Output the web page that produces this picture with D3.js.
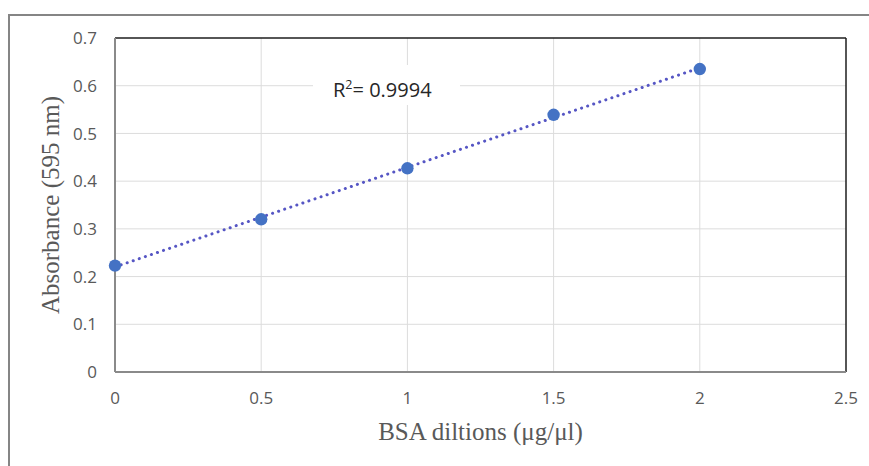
<!DOCTYPE html>
<html>
<head>
<meta charset="utf-8">
<script src="https://cdn.jsdelivr.net/npm/d3@7"></script>
<style>
  body { margin: 0; background: #fff; }
  svg { display: block; }
</style>
</head>
<body>
<svg id="chart" width="869" height="466"></svg>
<script>
// BSA standard curve
const concentrations = [0, 0.5, 1, 1.5, 2];
const absorbance = [0.223, 0.320, 0.427, 0.539, 0.635];
const xTicks = [0, 0.5, 1, 1.5, 2, 2.5];
const yTicks = [0, 0.1, 0.2, 0.3, 0.4, 0.5, 0.6, 0.7];
const rSquaredLabel = "0.9994";

const svg = d3.select("#chart");
const margin = { left: 115, top: 38, right: 846, bottom: 372 };

const x = d3.scaleLinear().domain([0, 2.5]).range([margin.left, margin.right]);
const y = d3.scaleLinear().domain([0, 0.7]).range([margin.bottom, margin.top]);

// outer frame (runs off the page on the right and bottom)
svg.append("rect")
    .attr("x", 9).attr("y", 15)
    .attr("width", 900).attr("height", 500)
    .attr("fill", "none")
    .attr("stroke", "#858585")
    .attr("stroke-width", 2);

// gridlines
let grid = svg.append("g");
grid.selectAll("line.h")
    .data(yTicks.slice(1, -1))
    .enter().append("line")
    .attr("x1", margin.left).attr("x2", margin.right)
    .attr("y1", d => y(d)).attr("y2", d => y(d))
    .attr("stroke", "#dcdcdc").attr("stroke-width", 1);
grid.selectAll("line.v")
    .data(xTicks.slice(1, -1))
    .enter().append("line")
    .attr("y1", margin.top).attr("y2", margin.bottom)
    .attr("x1", d => x(d)).attr("x2", d => x(d))
    .attr("stroke", "#dcdcdc").attr("stroke-width", 1);

// R² label with white box behind it
let label = svg.append("g");
let labelBox = label.append("rect").attr("fill", "#fff");
let labelText = label.append("text")
    .attr("x", 333).attr("y", 97)
    .attr("font-family", "Open Sans")
    .attr("font-size", 20)
    .attr("fill", "#262626");
labelText.append("tspan").text("R");
labelText.append("tspan").attr("font-size", 12.5).attr("dy", -8).text("2");
labelText.append("tspan").attr("dy", 8).text("= " + rSquaredLabel);
labelBox.attr("x", 313).attr("y", 65).attr("width", 147).attr("height", 40);

// plot frame: bottom/left grey, top/right dark
svg.append("line")
    .attr("x1", margin.left).attr("x2", margin.right)
    .attr("y1", margin.top).attr("y2", margin.top)
    .attr("stroke", "#1e1e1e").attr("stroke-width", 1.5);
svg.append("line")
    .attr("x1", margin.right).attr("x2", margin.right)
    .attr("y1", margin.top).attr("y2", margin.bottom)
    .attr("stroke", "#1e1e1e").attr("stroke-width", 1.5);
svg.append("line")
    .attr("x1", margin.left).attr("x2", margin.right)
    .attr("y1", margin.bottom).attr("y2", margin.bottom)
    .attr("stroke", "#8a8a8a").attr("stroke-width", 2);
svg.append("line")
    .attr("x1", margin.left).attr("x2", margin.left)
    .attr("y1", margin.top).attr("y2", margin.bottom)
    .attr("stroke", "#8a8a8a").attr("stroke-width", 2);

// tick labels
svg.append("g").selectAll("text")
    .data(yTicks)
    .enter().append("text")
    .attr("x", 97)
    .attr("y", d => y(d))
    .attr("dy", "0.36em")
    .attr("text-anchor", "end")
    .attr("font-family", "Open Sans")
    .attr("font-size", 17)
    .attr("fill", "#595959")
    .text(d => d === 0 ? "0" : d.toFixed(1));

svg.append("g").selectAll("text")
    .data(xTicks)
    .enter().append("text")
    .attr("x", d => x(d))
    .attr("y", 404)
    .attr("text-anchor", "middle")
    .attr("font-family", "Open Sans")
    .attr("font-size", 17)
    .attr("fill", "#595959")
    .text(d => String(d));

// axis titles
svg.append("text")
    .attr("x", (margin.left + margin.right) / 2)
    .attr("y", 440)
    .attr("text-anchor", "middle")
    .attr("font-family", "Liberation Serif")
    .attr("font-size", 25)
    .attr("fill", "#595959")
    .text("BSA diltions (μg/μl)");

svg.append("text")
    .attr("transform", "translate(59," + ((margin.top + margin.bottom) / 2) + ") rotate(-90)")
    .attr("text-anchor", "middle")
    .attr("font-family", "Liberation Serif")
    .attr("font-size", 25)
    .attr("fill", "#595959")
    .text("Absorbance (595 nm)");

// linear trendline (least squares fit of the points)
let meanX = d3.mean(concentrations);
let meanY = d3.mean(absorbance);
let sxy = d3.sum(concentrations, (c, i) => (c - meanX) * (absorbance[i] - meanY));
let sxx = d3.sum(concentrations, c => (c - meanX) * (c - meanX));
let slope = sxy / sxx;
let intercept = meanY - slope * meanX;
let ends = d3.extent(concentrations);

svg.append("path")
    .datum(ends)
    .attr("d", d3.line().x(d => x(d)).y(d => y(intercept + slope * d)))
    .attr("fill", "none")
    .attr("stroke", "#5656c4")
    .attr("stroke-width", 3)
    .attr("stroke-linecap", "round")
    .attr("stroke-dasharray", "0.1 6.3");

// data points
svg.append("g").selectAll("circle")
    .data(concentrations)
    .enter().append("circle")
    .attr("cx", d => x(d))
    .attr("cy", (d, i) => y(absorbance[i]))
    .attr("r", 6.2)
    .attr("fill", "#4472c4");
</script>
</body>
</html>
